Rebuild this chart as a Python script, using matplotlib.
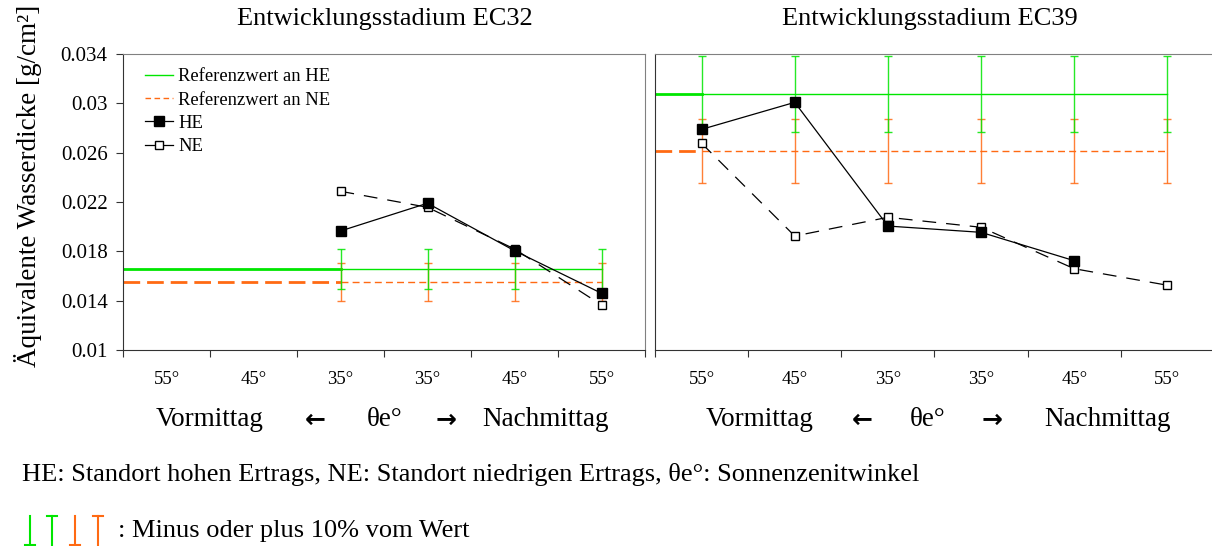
import matplotlib
matplotlib.use("Agg")
import matplotlib.pyplot as plt
from matplotlib.lines import Line2D
import numpy as np

plt.rcParams['font.family'] = ['Liberation Serif', 'DejaVu Sans']

# ---------------- data ----------------
tick_labels = ["55°", "45°", "35°", "35°", "45°", "55°"]

# EC32 (left panel) – data at categories 2..5
ec32_idx = [2, 3, 4, 5]
ec32_he = [0.01965, 0.0219, 0.01805, 0.0146]
ec32_ne = [0.02287, 0.02157, 0.01819, 0.01365]
ec32_ref_he = 0.01657
ec32_ref_ne = 0.01551

# EC39 (right panel)
ec39_he_idx = [0, 1, 2, 3, 4]
ec39_he = [0.02789, 0.03008, 0.02005, 0.01954, 0.01724]
ec39_ne_idx = [0, 1, 2, 3, 4, 5]
ec39_ne = [0.02676, 0.01924, 0.02076, 0.01995, 0.01659, 0.01525]
ec39_ref_he = 0.03076
ec39_ref_ne = 0.02613
ref_idx39 = [0, 1, 2, 3, 4, 5]

GREEN = '#00E600'
ORANGE = '#FF6A13'

W, H = 1212, 546
fig = plt.figure(figsize=(W / 100, H / 100), dpi=100)

def fax(x0, y0, x1, y1):
    return fig.add_axes([x0 / W, 1 - y1 / H, (x1 - x0) / W, (y1 - y0) / H])

axL = fax(123, 54, 645, 350)
axR = fax(655, 54, 1214, 350)

def style_axis(ax, show_y):
    ax.set_xlim(-0.5, 5.5)
    ax.set_ylim(0.01, 0.034)
    ax.set_xticks(np.arange(-0.5, 6.0, 1.0))
    ax.set_xticklabels([])
    ax.set_xticks(np.arange(6), minor=True)
    ax.set_xticklabels(tick_labels, minor=True, fontsize=13.5)
    ax.tick_params(axis='x', which='minor', length=0, pad=15)
    ax.tick_params(axis='x', which='major', length=5, direction='out', color='#333333')
    for s in ['top', 'right']:
        ax.spines[s].set_color('#808080')
    ax.spines['left'].set_color('#333333')
    ax.spines['bottom'].set_color('#333333')
    if show_y:
        yt = [0.01, 0.014, 0.018, 0.022, 0.026, 0.03, 0.034]
        ax.set_yticks(yt)
        ax.set_yticklabels(["0.01", "0.014", "0.018", "0.022", "0.026", "0.03", "0.034"], fontsize=15)
        ax.tick_params(axis='y', length=5, direction='out', color='#333333', pad=6)
    else:
        ax.set_yticks([])

style_axis(axL, True)
style_axis(axR, False)

def draw_ref(ax, idx, ref_he, ref_ne):
    x0, x1 = idx[0], idx[-1]
    # thick leading segments
    ax.plot([-0.5, x0], [ref_he, ref_he], color=GREEN, lw=2.0, zorder=2)
    ax.plot([-0.5, x0], [ref_ne, ref_ne], color=ORANGE, lw=2.0, ls=(0, (6, 2.5)), zorder=2)
    # thin lines
    ax.plot([x0, x1], [ref_he, ref_he], color=GREEN, lw=1.0, zorder=2)
    ax.plot([x0, x1], [ref_ne, ref_ne], color=ORANGE, lw=1.0, ls=(0, (5, 3)), zorder=2)
    xs = np.array(idx, dtype=float)
    ax.errorbar(xs, [ref_ne] * len(xs), yerr=0.1 * ref_ne, fmt='none',
                ecolor=ORANGE, elinewidth=1.0, capsize=3, capthick=1.0, alpha=0.85, zorder=3)
    ax.errorbar(xs, [ref_he] * len(xs), yerr=0.1 * ref_he, fmt='none',
                ecolor=GREEN, elinewidth=1.0, capsize=3, capthick=1.0, alpha=0.85, zorder=3)

draw_ref(axL, ec32_idx, ec32_ref_he, ec32_ref_ne)
draw_ref(axR, ref_idx39, ec39_ref_he, ec39_ref_ne)

def draw_series(ax, xi, he, xn, ne):
    ax.plot(xn, ne, color='black', lw=0.9, ls=(0, (11, 8)), marker='s', ms=6,
            mfc='white', mec='black', mew=1.0, zorder=5)
    ax.plot(xi, he, color='black', lw=0.9, marker='s', ms=7,
            mfc='black', mec='black', zorder=6)

draw_series(axL, ec32_idx, ec32_he, ec32_idx, ec32_ne)
draw_series(axR, ec39_he_idx, ec39_he, ec39_ne_idx, ec39_ne)

# legend
handles = [
    Line2D([], [], color=GREEN, lw=1.0),
    Line2D([], [], color=ORANGE, lw=1.0, ls=(0, (4, 2.5))),
    Line2D([], [], color='black', lw=0.9, marker='s', ms=7, mfc='black'),
    Line2D([], [], color='black', lw=0.9, marker='s', ms=6, mfc='white'),
]
labels = ["Referenzwert an HE", "Referenzwert an NE", "HE", "NE"]
axL.legend(handles, labels, loc='upper left', bbox_to_anchor=(0.02, 0.99),
           frameon=False, fontsize=13.4, handlelength=1.5, handletextpad=0.3,
           labelspacing=0.34, borderaxespad=0.2)

# titles
fig.text(385 / W, 1 - 19 / H, "Entwicklungsstadium EC32", ha='center', va='center', fontsize=19)
fig.text(930 / W, 1 - 19 / H, "Entwicklungsstadium EC39", ha='center', va='center', fontsize=19)

# y label
fig.text(28 / W, 1 - 186 / H, "Äquivalente Wasserdicke [g/cm²]", rotation=90,
         ha='center', va='center', fontsize=19.5)

# direction labels
def dir_labels(xs):
    y = 1 - 420 / H
    fig.text(xs[0] / W, y, "Vormittag", ha='center', va='center', fontsize=19.5)
    fig.text(xs[1] / W, y, "←", ha='center', va='center', fontsize=18,
             family='DejaVu Sans', fontweight='bold')
    fig.text(xs[2] / W, y, "θe°", ha='center', va='center', fontsize=19.5)
    fig.text(xs[3] / W, y, "→", ha='center', va='center', fontsize=18,
             family='DejaVu Sans', fontweight='bold')
    fig.text(xs[4] / W, y, "Nachmittag", ha='center', va='center', fontsize=19.5)

dir_labels([210, 315, 385, 446, 546])
dir_labels([760, 862, 928, 992, 1108])

# footnotes
fig.text(22 / W, 1 - 475 / H,
         "HE: Standort hohen Ertrags, NE: Standort niedrigen Ertrags, θe°: Sonnenzenitwinkel",
         ha='left', va='center', fontsize=19)

def icon(x, color, cap_top):
    y0, y1 = 1 - 545 / H, 1 - 516 / H
    fig.add_artist(Line2D([x / W, x / W], [y0, y1], color=color, lw=1.5, transform=fig.transFigure))
    yc = y1 if cap_top else y0
    fig.add_artist(Line2D([(x - 5) / W, (x + 5) / W], [yc, yc], color=color, lw=1.5,
                          transform=fig.transFigure))

icon(30, GREEN, False)
icon(52, GREEN, True)
icon(75, ORANGE, False)
icon(98, ORANGE, True)
fig.text(118 / W, 1 - 531 / H, ": Minus oder plus 10% vom Wert", ha='left', va='center', fontsize=19)

fig.savefig("out.png", dpi=100)
